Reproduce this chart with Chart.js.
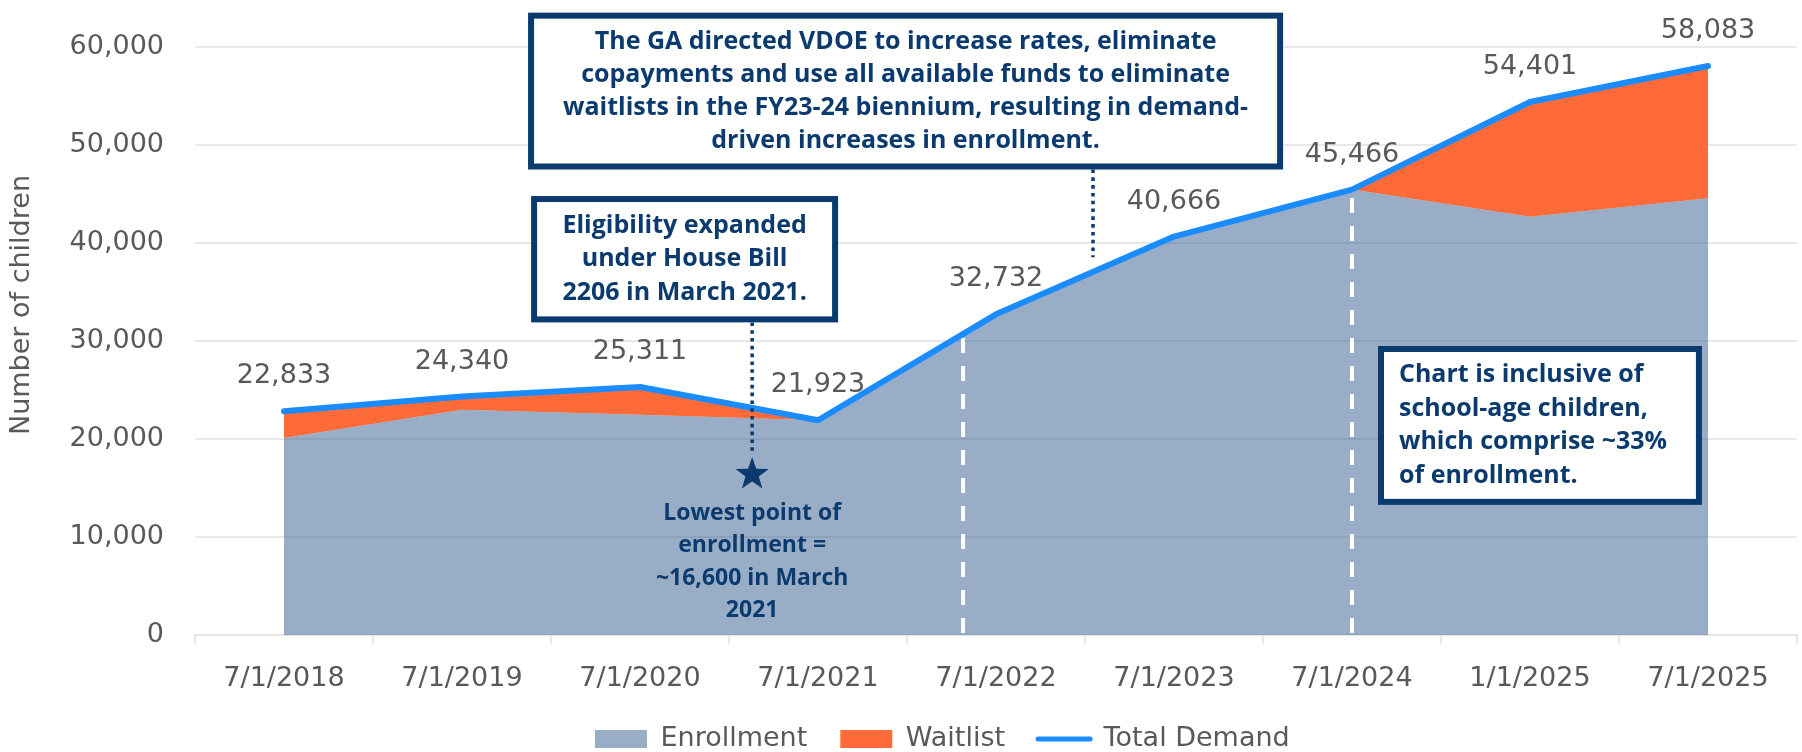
<!DOCTYPE html>
<html>
<head>
<meta charset="utf-8">
<script src="https://cdn.jsdelivr.net/npm/chart.js@4.4.1/dist/chart.umd.min.js"></script>
<style>
  html, body { margin: 0; padding: 0; background: #ffffff; }
  #wrap { width: 1802px; height: 752px; }
</style>
</head>
<body>
<div id="wrap"><canvas id="c" width="1802" height="752"></canvas></div>
<script>
// ---------------- DATA ----------------
const categories = ['7/1/2018', '7/1/2019', '7/1/2020', '7/1/2021', '7/1/2022', '7/1/2023', '7/1/2024', '1/1/2025', '7/1/2025'];
const enrollment = [20100, 23000, 22480, 21923, 32732, 40666, 45466, 42690, 44570];
const waitlist = [2733, 1340, 2831, 0, 0, 0, 0, 11711, 13513];
const totalDemand = [22833, 24340, 25311, 21923, 32732, 40666, 45466, 54401, 58083];
const yAxisMin = 0;
const yAxisMax = 60000;
const yAxisStep = 10000;
const seriesNames = ['Enrollment', 'Waitlist', 'Total Demand'];
const yAxisTitle = 'Number of children';

// annotation texts
const gaNote = ['The GA directed VDOE to increase rates, eliminate', 'copayments and use all available funds to eliminate', 'waitlists in the FY23-24 biennium, resulting in demand-', 'driven increases in enrollment.'];
const eligibilityNote = ['Eligibility expanded', 'under House Bill', '2206 in March 2021.'];
const inclusiveNote = ['Chart is inclusive of', 'school-age children,', 'which comprise ~33%', 'of enrollment.'];
const lowestNote = ['Lowest point of', 'enrollment =', '~16,600 in March', '2021'];
const lowestValue = 16600;

// ---------------- STYLE / LAYOUT ----------------
const NAVY = '#0B3A6E';
const GRAY_TEXT = '#595959';
const GRID = '#E8E8E8';
const C_ENROLL = 'rgba(60,100,145,0.52)';
const C_WAIT = '#FF6B38';
const C_TOTAL = '#1A8CFF';
const AX_FONT = 'DejaVu Sans';
const NOTE_FONT = '"Open Sans"';

// annotation anchors in (category index, value) units
const boxes = [
  { lines: gaNote, x1: 1.388, x2: 5.596, v1: 63220, v2: 47820, align: 'center', size: 25, lh: 33 },
  { lines: eligibilityNote, x1: 1.405, x2: 3.096, v1: 44500, v2: 32215, align: 'center', size: 25, lh: 33.5 },
  { lines: inclusiveNote, x1: 6.163, x2: 7.949, v1: 29195, v2: 13590, align: 'left', size: 25, lh: 33.5 }
];
const dashedMarkers = [3.815, 6];     // white dashed verticals (category index)
const lowestIdx = 2.63;               // March 2021 marker position
const gaPointerIdx = 4.545;
const gaPointerEnd = 38550;

const overlay = {
  id: 'overlay',
  afterLayout(chart) {
    const lg = chart.legend;
    if (!lg || !lg.lineWidths) return;
    const p = lg.options.labels.padding;
    const start = (lg.left + p + lg.right - lg.lineWidths[0]) / 2;
    const dx = 595 - start;
    const dy = 739 - (lg.top + p + 13.5);
    lg.left += dx; lg.right += dx; lg.top += dy;
    lg.bottom = chart.height;
    lg.height = lg.bottom - lg.top;
  },
  beforeDatasetDraw(chart, args) {
    if (args.index !== 2) return;
    const { ctx } = chart;
    const ys = chart.scales.y;
    const pts = chart.getDatasetMeta(2).data;
    ctx.save();
    ctx.strokeStyle = '#ffffff';
    ctx.lineWidth = 4;
    ctx.setLineDash([15, 13]);
    for (const idx of dashedMarkers) {
      const i0 = Math.floor(idx), f = idx - i0;
      const p0 = pts[i0], p1 = pts[Math.min(i0 + 1, pts.length - 1)];
      const x = p0.x + (p1.x - p0.x) * f;
      const yTop = p0.y + (p1.y - p0.y) * f;
      ctx.beginPath();
      ctx.moveTo(x, ys.getPixelForValue(0) - 2);
      ctx.lineTo(x, yTop);
      ctx.stroke();
    }
    ctx.restore();
  },
  afterDatasetsDraw(chart) {
    const { ctx } = chart;
    const pts = chart.getDatasetMeta(2).data;
    ctx.save();
    ctx.font = '27px "' + AX_FONT + '"';
    ctx.fillStyle = GRAY_TEXT;
    ctx.textAlign = 'center';
    ctx.textBaseline = 'middle';
    pts.forEach((pt, i) => {
      ctx.fillText(totalDemand[i].toLocaleString('en-US'), pt.x, pt.y - 35);
    });
    ctx.restore();
  },
  afterDraw(chart) {
    const { ctx } = chart;
    const xs = chart.scales.x, ys = chart.scales.y;
    const x0 = xs.getPixelForValue(0), step = xs.getPixelForValue(1) - x0;
    const xAt = (i) => x0 + i * step;
    const yAt = (v) => ys.getPixelForValue(v);
    ctx.save();

    // y axis title
    ctx.save();
    ctx.translate(22, 305);
    ctx.rotate(-Math.PI / 2);
    ctx.font = '27px "' + AX_FONT + '"';
    ctx.fillStyle = GRAY_TEXT;
    ctx.textAlign = 'center';
    ctx.textBaseline = 'middle';
    ctx.fillText(yAxisTitle, 0, 0);
    ctx.restore();

    // dotted pointers
    ctx.strokeStyle = NAVY;
    ctx.lineWidth = 3.5;
    ctx.setLineDash([3.6, 4.2]);
    const b2 = boxes[1], b1 = boxes[0];
    ctx.beginPath();
    ctx.moveTo(xAt(lowestIdx), yAt(b2.v2) + 3);
    ctx.lineTo(xAt(lowestIdx), yAt(lowestValue) - 21);
    ctx.stroke();
    ctx.beginPath();
    ctx.moveTo(xAt(gaPointerIdx), yAt(b1.v2) + 3);
    ctx.lineTo(xAt(gaPointerIdx), yAt(gaPointerEnd));
    ctx.stroke();
    ctx.setLineDash([]);

    // star
    const sx = xAt(lowestIdx), sy = yAt(lowestValue), R = 17.5, r = 7;
    ctx.beginPath();
    for (let k = 0; k < 10; k++) {
      const ang = -Math.PI / 2 + k * Math.PI / 5;
      const rad = k % 2 === 0 ? R : r;
      const px = sx + rad * Math.cos(ang), py = sy + 2 + rad * Math.sin(ang);
      if (k === 0) ctx.moveTo(px, py); else ctx.lineTo(px, py);
    }
    ctx.closePath();
    ctx.fillStyle = NAVY;
    ctx.fill();

    // lowest-point text
    ctx.font = 'bold 23px ' + NOTE_FONT;
    ctx.fillStyle = NAVY;
    ctx.textAlign = 'center';
    ctx.textBaseline = 'middle';
    lowestNote.forEach((t, i) => ctx.fillText(t, sx, sy + 41 + i * 32.3));

    // boxes
    for (const b of boxes) {
      const L = xAt(b.x1), Rr = xAt(b.x2), T = yAt(b.v1), B = yAt(b.v2);
      ctx.fillStyle = '#ffffff';
      ctx.fillRect(L, T, Rr - L, B - T);
      ctx.strokeStyle = NAVY;
      ctx.lineWidth = 6;
      ctx.lineJoin = 'miter';
      ctx.strokeRect(L, T, Rr - L, B - T);
      ctx.font = 'bold ' + b.size + 'px ' + NOTE_FONT;
      ctx.fillStyle = NAVY;
      ctx.textBaseline = 'middle';
      ctx.textAlign = b.align;
      const cy = (T + B) / 2;
      const n = b.lines.length;
      const tx = b.align === 'center' ? (L + Rr) / 2 : L + 18;
      b.lines.forEach((t, i) => ctx.fillText(t, tx, cy + (i - (n - 1) / 2) * b.lh));
    }
    ctx.restore();
  }
};

function build() {
  new Chart(document.getElementById('c'), {
    type: 'line',
    data: {
      labels: categories,
      datasets: [
        { label: seriesNames[0], data: enrollment, stack: 'base', fill: 'origin', backgroundColor: C_ENROLL, borderColor: C_ENROLL, borderWidth: 0, pointRadius: 0, order: 2, tension: 0 },
        { label: seriesNames[1], data: waitlist, stack: 'base', fill: '-1', backgroundColor: C_WAIT, borderColor: C_WAIT, borderWidth: 0, pointRadius: 0, order: 3, tension: 0 },
        { label: seriesNames[2], data: totalDemand, stack: 'total', fill: false, borderColor: C_TOTAL, backgroundColor: C_TOTAL, borderWidth: 6, pointRadius: 0, order: 1, tension: 0, borderJoinStyle: 'round', borderCapStyle: 'round' }
      ]
    },
    options: {
      responsive: false,
      animation: false,
      devicePixelRatio: 1,
      events: [],
      layout: { padding: { left: 0, right: 5, top: 39, bottom: 0 } },
      scales: {
        x: {
          type: 'category',
          offset: true,
          grid: { display: true, drawOnChartArea: false, drawTicks: true, tickLength: 9, offset: true, color: GRID, lineWidth: 2 },
          border: { display: true, color: GRID, width: 2 },
          ticks: { color: GRAY_TEXT, font: { family: AX_FONT, size: 27 }, padding: 19, maxRotation: 0, autoSkip: false },
          afterFit(s) { s.height = 65; }
        },
        y: {
          stacked: true,
          min: yAxisMin,
          max: yAxisMax,
          ticks: { stepSize: yAxisStep, color: GRAY_TEXT, font: { family: AX_FONT, size: 27 }, padding: 31, callback: (v) => Number(v).toLocaleString('en-US') },
          grid: { color: GRID, lineWidth: 2, drawTicks: false },
          border: { display: false },
          afterFit(s) { s.width = 195; }
        }
      },
      plugins: {
        tooltip: { enabled: false },
        legend: {
          position: 'bottom',
          maxHeight: 52,
          labels: {
            usePointStyle: true,
            pointStyleWidth: 52,
            boxHeight: 18,
            padding: 33,
            color: GRAY_TEXT,
            font: { family: AX_FONT, size: 27 },
            generateLabels(chart) {
              return chart.data.datasets.map((ds, i) => ({
                text: ds.label,
                fillStyle: i < 2 ? ds.backgroundColor : ds.borderColor,
                strokeStyle: i < 2 ? ds.backgroundColor : ds.borderColor,
                lineWidth: i < 2 ? 0 : 5,
                lineCap: 'round',
                pointStyle: i < 2 ? 'rect' : 'line',
                fontColor: GRAY_TEXT,
                hidden: false,
                datasetIndex: i
              }));
            }
          }
        }
      }
    },
    plugins: [overlay]
  });
}

const loads = [
  document.fonts.load('27px "DejaVu Sans"'),
  document.fonts.load('bold 25px "Open Sans"'),
  document.fonts.load('bold 23px "Open Sans"')
];
Promise.all(loads).then(build, build);
</script>
</body>
</html>
